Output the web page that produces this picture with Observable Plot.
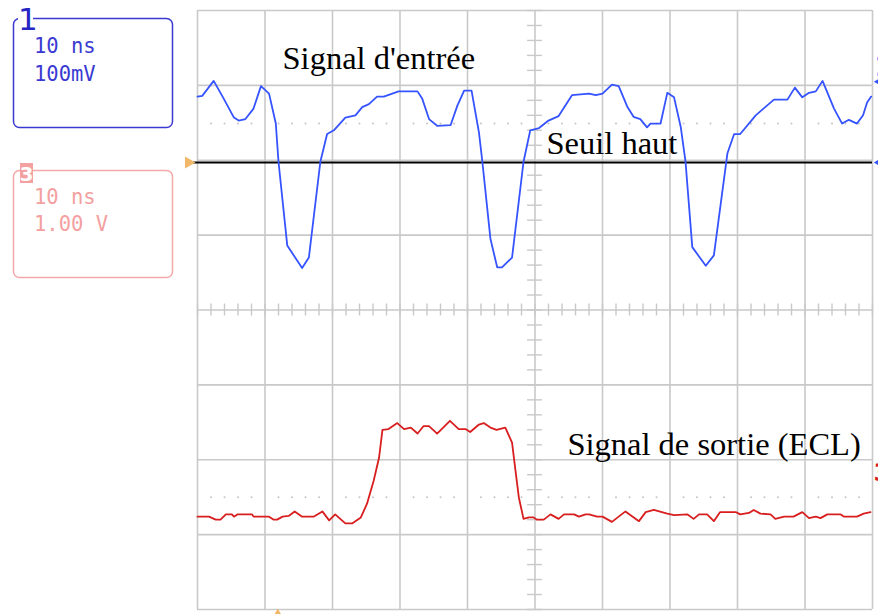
<!DOCTYPE html>
<html>
<head>
<meta charset="utf-8">
<script src="https://cdn.jsdelivr.net/npm/d3@7"></script>
<script src="https://cdn.jsdelivr.net/npm/@observablehq/plot@0.6"></script>
<style>
  body { margin: 0; background: #fff; }
  #wrap { position: relative; width: 878px; height: 614px; overflow: hidden; background: #fff; }
  #wrap svg { position: absolute; left: 0; top: 0; }
</style>
</head>
<body>
<div id="wrap">
  <svg id="panel" width="878" height="614" xmlns="http://www.w3.org/2000/svg">
    <rect x="13.5" y="18.5" width="159" height="109" rx="6" fill="none" stroke="#3a3ad2" stroke-width="1.5"/>
    <rect x="18" y="5" width="15" height="22" fill="#fff"/>
    <text x="18" y="30" font-family="DejaVu Sans" font-size="31" fill="#2626c4">1</text>
    <text x="34" y="53" font-family="DejaVu Sans Mono" font-size="20.5" fill="#3a3ad2">10 ns</text>
    <text x="34" y="81" font-family="DejaVu Sans Mono" font-size="20.5" fill="#3a3ad2">100mV</text>
    <rect x="13.5" y="170.5" width="159" height="107" rx="6" fill="none" stroke="#f4a8a8" stroke-width="1.5"/>
    <rect x="20" y="163" width="13" height="20" fill="#f2a0a0"/>
    <text x="26.5" y="181" text-anchor="middle" font-family="DejaVu Sans" font-weight="bold" font-size="20" fill="#fff">3</text>
    <text x="34" y="204" font-family="DejaVu Sans Mono" font-size="20.5" fill="#f4a0a0">10 ns</text>
    <text x="34" y="231" font-family="DejaVu Sans Mono" font-size="20.5" fill="#f4a0a0">1.00 V</text>
  </svg>
</div>
<script>
// Time axis: ns (10 ns / div), vertical axis: screen divisions
const gridTimes = [0, 10, 20, 30, 40, 50, 60, 70, 80, 90, 100];
const gridLevels = [-4, -3, -2, -1, 0, 1, 2, 3, 4];
const markerLevels = [2.49, -2.50];
const thresholdLevel = 1.97;   // "Seuil haut"
const triggerTime = 11.9;
const ch1Offset = 3.05;
const ch1LabelLevel = 3.24;
const ch3LabelLevel = -2.18;

// Channel 1 (input signal, blue)
const blueT = [0,0.7,2.4,3.9,5.4,6.1,7.1,8.3,9.4,10.6,11.6,12.0,13.3,15.5,16.5,18.2,19.2,20.2,21.9,23.4,24.4,25.4,26.6,27.6,29.8,32.6,33.3,34.3,35.5,37.5,38.5,39.5,40.6,41.7,42.2,43.4,44.4,45.1,46.6,48.3,49.3,50.6,52.0,53.5,55.5,58.0,59.0,60.0,61.4,62.4,63.7,64.6,65.6,66.6,67.1,68.6,69.6,70.6,71.6,72.3,73.3,75.3,76.5,78.5,79.5,80.4,82.7,85.4,87.4,88.5,89.6,90.6,91.6,92.6,94.3,95.5,96.5,97.7,98.6,99.2,99.8];
const blueV = [2.85,2.86,3.06,2.82,2.57,2.53,2.55,2.69,2.99,2.89,2.49,1.98,0.86,0.56,0.70,1.98,2.35,2.40,2.57,2.60,2.71,2.75,2.85,2.85,2.92,2.92,2.82,2.55,2.46,2.47,2.73,2.93,2.93,2.37,1.98,0.95,0.57,0.57,0.70,1.98,2.40,2.43,2.53,2.59,2.87,2.89,2.87,2.89,3.01,2.99,2.71,2.58,2.55,2.44,2.49,2.49,2.90,2.84,2.44,1.98,0.84,0.59,0.73,2.09,2.35,2.35,2.60,2.81,2.81,2.97,2.84,2.90,2.92,3.06,2.69,2.49,2.54,2.49,2.60,2.77,2.85];

// Channel 3 (ECL output, red)
const redT = [0,1.7,2.7,3.4,4.2,5.1,5.4,5.9,8.1,8.3,10.6,11.3,11.8,12.6,13.5,14.4,15.5,17.2,18.5,19.5,20.4,21.9,22.9,24.2,25.1,26.1,26.9,27.4,28.3,29.6,30.6,31.6,32.6,33.5,34.3,35.5,37.4,38.7,39.7,40.4,41.7,42.4,43.4,44.3,45.6,46.6,47.1,47.6,48.3,49.1,49.8,50.3,51.3,52.3,53.5,54.3,55.8,56.5,57.5,58.0,59.2,60.0,61.4,63.4,65.4,66.4,67.6,69.6,70.6,72.6,73.5,74.3,75.5,76.5,77.4,79.8,80.4,81.7,82.4,83.4,84.9,85.6,86.9,88.3,89.6,90.6,91.6,92.3,93.3,95.3,95.8,97.7,98.7,99.7];
const redV = [-2.76,-2.76,-2.80,-2.80,-2.73,-2.73,-2.76,-2.73,-2.73,-2.76,-2.76,-2.80,-2.80,-2.76,-2.75,-2.69,-2.76,-2.76,-2.69,-2.81,-2.73,-2.85,-2.85,-2.77,-2.59,-2.28,-1.97,-1.60,-1.59,-1.51,-1.59,-1.57,-1.65,-1.55,-1.55,-1.65,-1.48,-1.59,-1.59,-1.63,-1.53,-1.51,-1.57,-1.60,-1.57,-1.77,-2.14,-2.50,-2.79,-2.77,-2.77,-2.80,-2.80,-2.73,-2.79,-2.73,-2.73,-2.76,-2.73,-2.73,-2.76,-2.76,-2.83,-2.69,-2.82,-2.70,-2.67,-2.72,-2.74,-2.73,-2.79,-2.73,-2.73,-2.82,-2.70,-2.70,-2.73,-2.71,-2.67,-2.72,-2.73,-2.79,-2.76,-2.76,-2.70,-2.78,-2.76,-2.78,-2.73,-2.73,-2.76,-2.76,-2.72,-2.70];

// Annotations
const labelText = ["Signal d'entrée", "Seuil haut", "Signal de sortie (ECL)"];
const labelT = [12.6, 51.7, 54.8];
const labelV = [3.22, 2.08, -1.93];

const blue = blueT.map((t, i) => ({t, v: blueV[i]}));
const red = redT.map((t, i) => ({t, v: redV[i]}));
const labels = labelText.map((s, i) => ({s, t: labelT[i], v: labelV[i]}));
const minorLevels = d3.range(-4, 4.001, 0.2);
const minorTimes = d3.range(0, 100.001, 2);
const dotted = markerLevels.flatMap(v => minorTimes.filter(t => Math.round(t) % 10 !== 0).map(t => ({t, v})));

const gridColor = "#c9c9c9";
const chart = Plot.plot({
  width: 878,
  height: 614,
  marginLeft: 197,
  marginRight: 6,
  marginTop: 10,
  marginBottom: 5,
  x: {domain: [0, 100], axis: null},
  y: {domain: [-4, 4], axis: null},
  style: {background: "transparent", overflow: "visible"},
  marks: [
    Plot.ruleX(gridTimes, {stroke: gridColor, strokeWidth: 1.6}),
    Plot.ruleY(gridLevels, {stroke: gridColor, strokeWidth: 1.6}),
    Plot.ruleY(minorLevels, {x1: 48.9, x2: 51.1, stroke: gridColor, strokeWidth: 1.4}),
    Plot.ruleX(minorTimes, {y1: -0.08, y2: 0.08, stroke: gridColor, strokeWidth: 1.4}),
    Plot.dot(dotted, {x: "t", y: "v", r: 1, fill: "#c4c4c4", stroke: null}),
    Plot.ruleY([thresholdLevel], {x1: -1, x2: 100, stroke: "#000", strokeWidth: 2}),
    Plot.dot([thresholdLevel], {x: 0, y: d => d, dx: -9, symbol: "triangle", rotate: 90, r: 4.5, fill: "#f0b868", stroke: null}),
    Plot.dot([triggerTime], {x: d => d, y: -4, dy: 6, symbol: "triangle", r: 4.5, fill: "#f0b868", stroke: null}),
    Plot.line(blue, {x: "t", y: "v", stroke: "#3553ff", strokeWidth: 1.8, strokeLinejoin: "round"}),
    Plot.line(red, {x: "t", y: "v", stroke: "#d81e1e", strokeWidth: 1.8, strokeLinejoin: "round"}),
    Plot.dot([ch1Offset, thresholdLevel], {x: 100, y: d => d, dx: 6, symbol: "triangle", rotate: -90, r: 3, fill: "#3553ff", stroke: null}),
    Plot.text(["1"], {x: 100, y: ch1LabelLevel, dx: 2, text: d => d, textAnchor: "start", fontSize: 26, fontWeight: "bold", fontFamily: "DejaVu Sans", fill: "#3553ff"}),
    Plot.text(["3"], {x: 100, y: ch3LabelLevel, dx: 1, text: d => d, textAnchor: "start", fontSize: 24, fontWeight: "bold", fontFamily: "DejaVu Sans", fill: "#d81e1e"}),
    Plot.text(labels, {x: "t", y: "v", text: "s", textAnchor: "start", lineAnchor: "bottom", fontFamily: "Liberation Serif", fontSize: 32.5, fill: "#000"})
  ]
});
document.getElementById("wrap").appendChild(chart);
</script>
</body>
</html>
